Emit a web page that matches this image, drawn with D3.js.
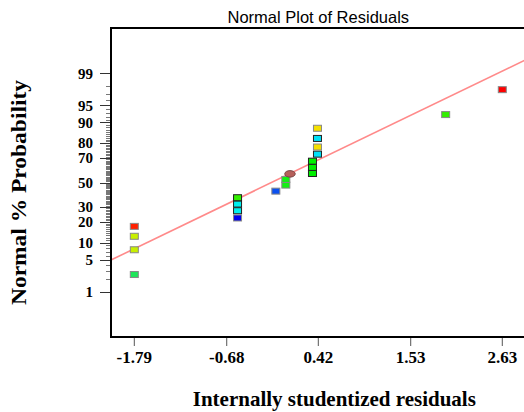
<!DOCTYPE html>
<html>
<head>
<meta charset="utf-8">
<script src="https://cdn.jsdelivr.net/npm/d3@7"></script>
<style>
  html, body { margin: 0; padding: 0; background: #fff; }
  svg { display: block; }
</style>
</head>
<body>
<svg id="chart" width="524" height="412"></svg>
<script>
// ---------------- data ----------------
const residuals = [-1.79, -1.79, -1.79, -1.79, -0.55, -0.55, -0.55, -0.55, -0.09, 0.03,
                   0.03, 0.35, 0.35, 0.35, 0.41, 0.41, 0.41, 0.41, 1.95, 2.63];
const probabilities = [2.5, 7.6, 12.6, 17.5, 22.5, 27.4, 32.3, 37.3, 42.7, 47.8,
                       52.6, 57.6, 62.6, 67.5, 72.7, 77.5, 82.6, 87.6, 92.6, 97.6];
const pointColors = ["#1ee65a", "#c8f000", "#c8f000", "#ff2000", "#0000f0", "#00f0f0",
                     "#00f0f0", "#33f000", "#0a50f0", "#14f014", "#14f014", "#00f000",
                     "#00f000", "#00f000", "#00e0f8", "#f5e000", "#00e0f8", "#f5e000",
                     "#33f000", "#ff0000"];
const markerX = [0.08];
const markerP = [57.3];
const lineX = [-2.07, 2.91];
const lineP = [4.94, 99.55];
const xTicks = [-1.79, -0.68, 0.42, 1.53, 2.63];
const yTicks = [1, 5, 10, 20, 30, 50, 70, 80, 90, 95, 99];
const yMinor = d3.range(2, 99).filter(v => !yTicks.includes(v));

// inverse normal CDF (probability-scale transform)
function probit(p) {
  const a = [-3.969683028665376e+01, 2.209460984245205e+02, -2.759285104469687e+02,
             1.383577518672690e+02, -3.066479806614716e+01, 2.506628277459239e+00];
  const b = [-5.447609879822406e+01, 1.615858368580409e+02, -1.556989798598866e+02,
             6.680131188771972e+01, -1.328068155288572e+01];
  const c = [-7.784894002430293e-03, -3.223964580411365e-01, -2.400758277161838e+00,
             -2.549671176437108e+00, 4.374664141464968e+00, 2.938163982698783e+00];
  const d = [7.784695709041462e-03, 3.224671290700398e-01, 2.445134137142996e+00,
             3.754408661907416e+00];
  const pl = 0.02425, ph = 1 - pl;
  let q, r;
  if (p < pl) {
    q = Math.sqrt(-2 * Math.log(p));
    return (((((c[0]*q+c[1])*q+c[2])*q+c[3])*q+c[4])*q+c[5]) /
           ((((d[0]*q+d[1])*q+d[2])*q+d[3])*q+1);
  } else if (p <= ph) {
    q = p - 0.5; r = q * q;
    return (((((a[0]*r+a[1])*r+a[2])*r+a[3])*r+a[4])*r+a[5])*q /
           (((((b[0]*r+b[1])*r+b[2])*r+b[3])*r+b[4])*r+1);
  } else {
    q = Math.sqrt(-2 * Math.log(1 - p));
    return -(((((c[0]*q+c[1])*q+c[2])*q+c[3])*q+c[4])*q+c[5]) /
            ((((d[0]*q+d[1])*q+d[2])*q+d[3])*q+1);
  }
}

// ---------------- layout ----------------
const svg = d3.select("#chart");
const L = 111, T = 28, B = 337;
const x = d3.scaleLinear().domain([-2.07, 2.91]).range([L, 525.6]);
const zScale = d3.scaleLinear().domain([probit(0.0005), probit(0.9995)]).range([B, T]);
const y = p => zScale(probit(p / 100));
const R = x.range()[1];

svg.append("rect").attr("width", 524).attr("height", 412).attr("fill", "#fff");

svg.append("defs").append("clipPath").attr("id", "clip")
  .append("rect").attr("x", L).attr("y", T).attr("width", R - L).attr("height", B - T);

// title
svg.append("text")
  .attr("x", (L + R) / 2).attr("y", 22.5)
  .attr("text-anchor", "middle")
  .attr("font-family", "Liberation Sans, Arial, sans-serif")
  .attr("font-size", 16.5)
  .attr("fill", "#000")
  .text("Normal Plot of Residuals");

// y ticks
const yg = svg.append("g");
yg.selectAll("line.minor").data(yMinor).join("line")
  .attr("class", "minor")
  .attr("x1", 106).attr("x2", L)
  .attr("y1", d => Math.round(y(d)) + 0.5).attr("y2", d => Math.round(y(d)) + 0.5)
  .attr("stroke", "#777").attr("stroke-width", 1);
yg.selectAll("line.major").data(yTicks).join("line")
  .attr("class", "major")
  .attr("x1", 100).attr("x2", L)
  .attr("y1", d => Math.round(y(d)) + 0.5).attr("y2", d => Math.round(y(d)) + 0.5)
  .attr("stroke", "#333").attr("stroke-width", 1);
yg.selectAll("text").data(yTicks).join("text")
  .attr("x", 93).attr("y", d => y(d))
  .attr("dy", "0.35em")
  .attr("text-anchor", "end")
  .attr("font-family", "Liberation Serif, Times New Roman, serif")
  .attr("font-weight", "bold")
  .attr("font-size", 15)
  .text(d => d);

// x ticks
const xg = svg.append("g");
xg.selectAll("line").data(xTicks).join("line")
  .attr("x1", d => x(d)).attr("x2", d => x(d))
  .attr("y1", B + 1).attr("y2", B + 9)
  .attr("stroke", "#555").attr("stroke-width", 1);
xg.selectAll("text").data(xTicks).join("text")
  .attr("x", d => x(d)).attr("y", 363)
  .attr("text-anchor", "middle")
  .attr("font-family", "Liberation Serif, Times New Roman, serif")
  .attr("font-weight", "bold")
  .attr("font-size", 17)
  .text(d => d.toFixed(2));

// axis titles
svg.append("text")
  .attr("x", (L + R) / 2 + 16).attr("y", 406)
  .attr("text-anchor", "middle")
  .attr("font-family", "Liberation Serif, Times New Roman, serif")
  .attr("font-weight", "bold")
  .attr("font-size", 21)
  .text("Internally studentized residuals");

svg.append("text")
  .attr("transform", "translate(26,192.5) rotate(-90)")
  .attr("text-anchor", "middle")
  .attr("font-family", "Liberation Serif, Times New Roman, serif")
  .attr("font-weight", "bold")
  .attr("font-size", 20)
  .attr("textLength", 225)
  .attr("lengthAdjust", "spacingAndGlyphs")
  .text("Normal % Probability");

// plot content
const plot = svg.append("g").attr("clip-path", "url(#clip)");

plot.append("line")
  .attr("x1", x(lineX[0])).attr("y1", y(lineP[0]))
  .attr("x2", x(lineX[1])).attr("y2", y(lineP[1]))
  .attr("stroke", "#ff8a8a").attr("stroke-width", 1.6);

const blackEdge = new Set([5, 6, 7, 11, 12, 13, 14, 16]);
plot.selectAll("rect.pt").data(residuals).join("rect")
  .attr("class", "pt")
  .attr("x", d => x(d) - 4)
  .attr("y", (d, i) => y(probabilities[i]) - 3)
  .attr("width", 8).attr("height", 6)
  .attr("fill", (d, i) => pointColors[i])
  .attr("stroke", (d, i) => blackEdge.has(i) ? "#222" : "#888")
  .attr("stroke-width", 1);

plot.selectAll("ellipse").data(markerX).join("ellipse")
  .attr("cx", d => x(d))
  .attr("cy", (d, i) => y(markerP[i]))
  .attr("rx", 5.3).attr("ry", 3.3)
  .attr("fill", "#b5605a").attr("stroke", "#6b3b3b").attr("stroke-width", 0.8);

// frame
svg.append("rect")
  .attr("x", L).attr("y", T).attr("width", R - L).attr("height", B - T)
  .attr("fill", "none").attr("stroke", "#000").attr("stroke-width", 2);
</script>
</body>
</html>
